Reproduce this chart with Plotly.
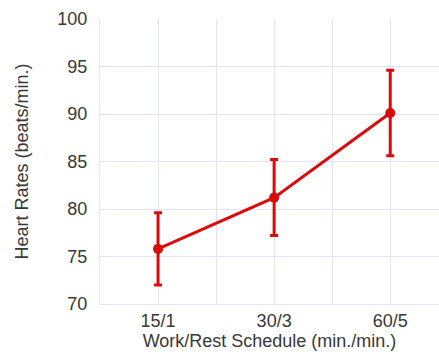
import plotly.graph_objects as go

# Work/rest schedules and mean heart rates with their error bars
schedules = ["15/1", "30/3", "60/5"]
heart_rate = [75.8, 81.2, 90.1]
err_plus = [3.8, 4.0, 4.5]
err_minus = [3.8, 4.0, 4.5]

positions = list(range(1, len(schedules) + 1))

red = "#dd0a0a"
grid = "#e2e2f8"
font = "Liberation Sans, Arial, sans-serif"

fig = go.Figure(
    go.Scatter(
        x=positions,
        y=heart_rate,
        mode="lines+markers",
        line=dict(color=red, width=3),
        marker=dict(color=red, size=10),
        error_y=dict(
            type="data",
            symmetric=False,
            array=err_plus,
            arrayminus=err_minus,
            color=red,
            thickness=3,
            width=4,
        ),
        showlegend=False,
    )
)

fig.update_layout(
    width=439,
    height=356,
    margin=dict(l=100, r=0, t=19, b=52),
    paper_bgcolor="white",
    plot_bgcolor="white",
    font=dict(family=font, size=18, color="#383838"),
)

fig.update_xaxes(
    range=[0.5, 3.42],
    tickmode="array",
    tickvals=positions,
    ticktext=schedules,
    showgrid=True,
    gridcolor=grid,
    gridwidth=1,
    minor=dict(dtick=0.5, tick0=0.5, showgrid=True, gridcolor=grid, gridwidth=1),
    showline=True,
    linecolor=grid,
    linewidth=1,
    zeroline=False,
    ticks="",
    tickfont=dict(size=18),
    automargin=False,
    title=dict(text="Work/Rest Schedule (min./min.)", font=dict(size=18), standoff=0),
)

fig.update_yaxes(
    range=[70, 100],
    dtick=5,
    showgrid=True,
    gridcolor=grid,
    gridwidth=1,
    showline=True,
    linecolor=grid,
    linewidth=1,
    zeroline=False,
    ticks="",
    ticklabelstandoff=8,
    tickfont=dict(size=18),
    automargin=False,
    title=dict(text="Heart Rates (beats/min.)", font=dict(size=18), standoff=24),
)

fig.write_html("out.html")
